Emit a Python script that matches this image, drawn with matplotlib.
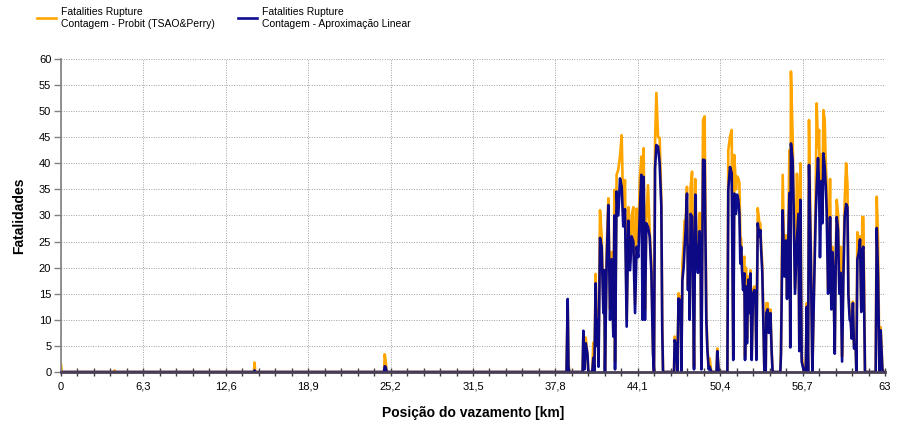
import numpy as np
import matplotlib
matplotlib.use("Agg")
import matplotlib.pyplot as plt
from matplotlib.ticker import MultipleLocator, FixedLocator

plt.rcParams['font.family'] = ['Liberation Sans', 'DejaVu Sans']

# posição do vazamento [km], fatalidades probit (TSAO&Perry), fatalidades aproximação linear
km = [0.0, 0.05, 4.05, 4.1, 4.15, 14.75, 14.8, 14.85, 24.7, 24.75, 24.82, 24.9,
      38.65, 38.74, 38.8, 38.86, 39.88, 39.94, 40.02, 40.12, 40.25, 40.32,
      40.62, 40.70, 40.78, 40.88, 40.96, 41.03, 41.1, 41.21, 41.34, 41.47, 41.54, 41.59,
      41.72, 41.85, 41.98, 42.10, 42.23, 42.31, 42.36, 42.48, 42.61, 42.74, 42.87, 42.99,
      43.12, 43.25, 43.38, 43.51, 43.63, 43.76, 43.89, 44.01, 44.14,
      44.25, 44.37, 44.47, 44.55, 44.65, 44.75, 44.88, 45.01, 45.14, 45.26, 45.34,
      45.42, 45.52, 45.65, 45.77, 45.9, 45.97, 46.03,
      46.87, 46.92, 47.05, 47.12, 47.22, 47.33, 47.38, 47.43, 47.51, 47.61, 47.68, 47.76,
      47.86, 47.94, 47.99, 48.07, 48.14, 48.25, 48.32, 48.4, 48.5, 48.6, 48.7, 48.83,
      48.9, 48.96, 49.09, 49.21, 49.34, 49.42, 49.52, 49.6, 49.72, 50.12, 50.18, 50.29,
      50.95, 51.02, 51.15, 51.28, 51.4, 51.48, 51.61, 51.69, 51.79, 51.87, 51.94, 52.0,
      52.07, 52.15, 52.25, 52.3, 52.37, 52.45, 52.55, 52.63, 52.71, 52.81, 52.91, 53.01,
      53.09, 53.17, 53.27, 53.4, 53.47, 53.52, 53.62, 53.72, 53.78, 53.88, 53.93, 54.03,
      54.11, 54.24, 54.34, 54.41, 55.0, 55.05, 55.18, 55.31, 55.43, 55.51, 55.61, 55.69,
      55.76, 55.81, 55.94, 56.02, 56.12, 56.27, 56.38, 56.45, 56.53, 56.63,
      56.81, 56.94, 57.02, 57.12, 57.19, 57.32, 57.45, 57.57, 57.7, 57.78, 57.88, 57.96,
      58.03, 58.14, 58.21, 58.29, 58.39, 58.47, 58.54, 58.65, 58.72, 58.8, 58.9, 58.98,
      59.06, 59.16, 59.23, 59.31, 59.41, 59.51, 59.61, 59.72, 59.82, 59.92, 60.03, 60.13,
      60.2, 60.3, 60.38, 60.45, 60.55, 60.63, 60.76, 60.81, 60.89, 61.01, 61.09, 61.19,
      61.27, 61.35, 61.45, 61.47, 62.29, 62.37, 62.47, 62.57, 62.6, 62.67, 62.8, 62.85, 63.0]

probit = [1.4, 0, 0, 0.3, 0, 0, 1.8, 0, 0, 3.4, 2.2, 0,
          0, 12.5, 2.0, 0, 0, 7.0, 1.0, 6.6, 3.2, 0,
          0, 5.6, 1.0, 18.8, 6.0, 12.0, 2.0, 31.0, 26.0, 13.0, 19.5, 0.5,
          23.5, 33.3, 12.0, 23.0, 8.0, 34.9, 2.0, 37.8, 38.8, 41.3, 45.4, 30.0,
          36.8, 10.0, 31.6, 21.0, 30.0, 31.6, 13.0, 31.3, 25.0,
          36.8, 41.3, 20.0, 42.9, 12.0, 29.0, 35.8, 27.0, 20.7, 4.5, 0,
          44.0, 53.5, 45.0, 44.9, 33.2, 10.0, 0,
          0, 6.8, 5.5, 0, 15.1, 10.5, 14.5, 0.5, 20.8, 24.7, 29.0, 28.7,
          35.5, 16.5, 25.0, 11.0, 35.5, 38.4, 18.0, 1.0, 37.0, 23.0, 20.0, 30.5,
          24.0, 1.0, 48.3, 49.0, 11.0, 5.0, 1.0, 2.6, 0, 0, 4.5, 0,
          0, 42.5, 45.1, 46.4, 3.0, 41.6, 35.0, 37.5, 37.1, 36.2, 26.0, 25.5,
          21.0, 21.0, 22.1, 3.0, 20.0, 6.5, 18.3, 12.0, 19.5, 3.0, 15.8, 16.4,
          15.5, 3.0, 31.4, 28.5, 28.5, 25.0, 20.5, 8.0, 0, 0, 13.2, 13.2,
          8.0, 12.0, 4.0, 0, 0, 4.5, 37.8, 19.0, 26.2, 14.5, 26.0, 42.5,
          5.0, 57.6, 45.0, 32.0, 16.0, 38.0, 31.0, 4.5, 40.0, 3.0,
          0, 0.5, 13.2, 0, 48.3, 25.0, 0, 16.0, 34.0, 51.5, 43.0, 46.4,
          34.0, 41.7, 30.0, 50.2, 48.3, 40.0, 36.0, 16.0, 25.0, 37.0, 13.0, 24.0,
          19.5, 4.0, 21.0, 33.0, 30.3, 16.0, 24.0, 3.0, 21.0, 33.0, 40.0, 36.0,
          16.0, 11.0, 11.5, 7.0, 13.5, 5.0, 5.5, 0, 26.8, 24.5, 26.0, 12.0,
          29.7, 29.7, 5.0, 0, 0, 33.6, 25.0, 1.5, 0, 8.6, 1.0, 0, 0]

linear = [0, 0, 0, 0, 0, 0, 0.3, 0, 0, 1.1, 1.0, 0,
          0, 14.0, 1.0, 0, 0, 7.9, 0.5, 5.5, 3.5, 0,
          0, 2.7, 0, 17.0, 5.0, 10.0, 1.0, 25.7, 24.0, 11.3, 19.5, 0,
          21.0, 32.0, 10.0, 21.6, 6.8, 30.0, 0.5, 34.6, 30.0, 37.1, 35.5, 27.9,
          31.2, 8.7, 29.0, 19.5, 26.0, 25.0, 11.3, 24.0, 22.0,
          30.4, 37.8, 10.0, 37.4, 10.0, 28.5, 27.8, 26.0, 19.0, 3.7, 0,
          39.0, 43.5, 43.2, 40.0, 31.7, 8.0, 0,
          0, 6.1, 4.8, 0, 14.1, 10.0, 13.8, 0, 17.6, 20.2, 23.9, 27.2,
          34.2, 15.7, 24.0, 10.0, 30.3, 29.8, 17.6, 0.5, 34.0, 22.0, 19.0, 27.0,
          22.0, 0.5, 40.7, 40.6, 10.0, 4.3, 0.5, 1.0, 0, 0, 4.0, 0,
          0, 34.9, 39.3, 38.1, 2.3, 34.2, 30.3, 34.0, 33.0, 30.3, 20.8, 24.0,
          19.5, 15.7, 18.9, 2.3, 16.4, 5.5, 17.7, 11.3, 18.9, 2.3, 15.0, 15.7,
          15.0, 2.3, 28.5, 26.0, 27.2, 24.0, 19.0, 7.5, 0, 0, 11.3, 12.0,
          7.5, 11.3, 3.5, 0, 0, 3.5, 31.0, 18.3, 25.2, 14.0, 25.8, 34.3,
          4.7, 43.8, 40.6, 31.0, 15.0, 25.2, 30.3, 4.0, 33.0, 2.0,
          0, 0, 12.5, 0, 39.7, 24.0, 0, 15.0, 29.7, 35.5, 41.0, 35.5,
          22.0, 36.6, 28.5, 41.9, 39.4, 35.5, 31.0, 15.0, 20.0, 29.7, 12.0, 23.0,
          18.3, 3.5, 20.0, 29.7, 27.2, 15.0, 19.0, 2.0, 18.3, 29.7, 32.2, 31.6,
          15.0, 10.0, 9.6, 6.4, 13.2, 4.5, 5.0, 0, 21.6, 23.0, 25.4, 11.5,
          23.4, 24.0, 5.0, 0, 0, 27.6, 18.3, 1.0, 0, 8.0, 0.5, 0, 0]

fig = plt.figure(figsize=(8.97, 4.21), dpi=100)
ax = fig.add_axes([0.068, 0.1164, 0.9186, 0.7435])

ax.plot(km, probit, color='#FFA500', lw=1.9, label='Fatalities Rupture\nContagem - Probit (TSAO&Perry)')
ax.plot(km, linear, color='#00008B', lw=1.9, alpha=0.95, label='Fatalities Rupture\nContagem - Aproximação Linear')

ax.set_xlim(0, 63)
ax.set_ylim(0, 60)
xt = [0, 6.3, 12.6, 18.9, 25.2, 31.5, 37.8, 44.1, 50.4, 56.7, 63]
ax.set_xticks(xt)
ax.set_xticklabels(['0', '6,3', '12,6', '18,9', '25,2', '31,5', '37,8', '44,1', '50,4', '56,7', '63'])
ax.xaxis.set_minor_locator(FixedLocator([i * 1.26 for i in range(51)]))
ax.yaxis.set_major_locator(MultipleLocator(5))

ax.grid(True, which='major', color='#a0a0a0', linestyle=(0, (1, 1.5)), lw=0.7)
ax.tick_params(axis='x', which='both', direction='inout', length=6, width=1, color='#404040',
               labelsize=8, pad=4)
ax.tick_params(axis='y', which='major', direction='out', length=5, width=1, color='#808080',
               labelsize=8, pad=2)
for s in ['top', 'right']:
    ax.spines[s].set_visible(False)
ax.spines['left'].set_color('#808080')
ax.spines['left'].set_linewidth(1.2)
ax.spines['bottom'].set_color('#4a3f55')
ax.spines['bottom'].set_linewidth(2)

ax.set_xlabel('Posição do vazamento [km]', fontsize=10, fontweight='bold', labelpad=10)
ax.set_ylabel('Fatalidades', fontsize=10, fontweight='bold', labelpad=9)

fig.legend(loc='upper left', bbox_to_anchor=(0.031, 1.005), ncol=2, frameon=False,
           fontsize=7.5, handlelength=1.8, handletextpad=0.5, columnspacing=2.2)

fig.savefig('out.png', dpi=100)
